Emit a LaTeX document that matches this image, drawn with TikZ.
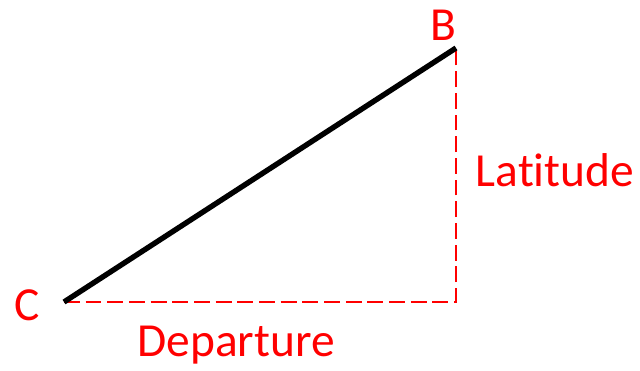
\documentclass[tikz,border=0pt]{standalone}
\usepackage{fontspec}
\setmainfont[Ligatures=NoCommon]{Carlito}
\usetikzlibrary{positioning}
\definecolor{legred}{HTML}{FF0000}

\begin{document}
\begin{tikzpicture}[
x=0.03cm,y=-0.03cm,
every node/.style={font=\fontsize{40.5}{44}\selectfont},
lbl/.style={text=legred,inner sep=0pt},
course/.style={line width=4.6pt,black},
leg/.style={line width=1.7pt,draw=legred,dash pattern=on 13.5pt off 5pt}
]
\useasboundingbox (0,0) rectangle (640,371);
\coordinate (C) at (64,302);
\coordinate (B) at (456,48);
\coordinate (R) at (456,302);

\node[lbl] (lb) at (443,25)  {B};
\node[lbl] (lc) at (27,305)  {C};
\node[lbl] (lat) at (555,170) {Latitude};
\node[lbl] (dep) at (236,345) {Departure};

\draw[leg] (C) -- (R) -- (B);
\draw[course] (C) -- (B);
\end{tikzpicture}
\end{document}
